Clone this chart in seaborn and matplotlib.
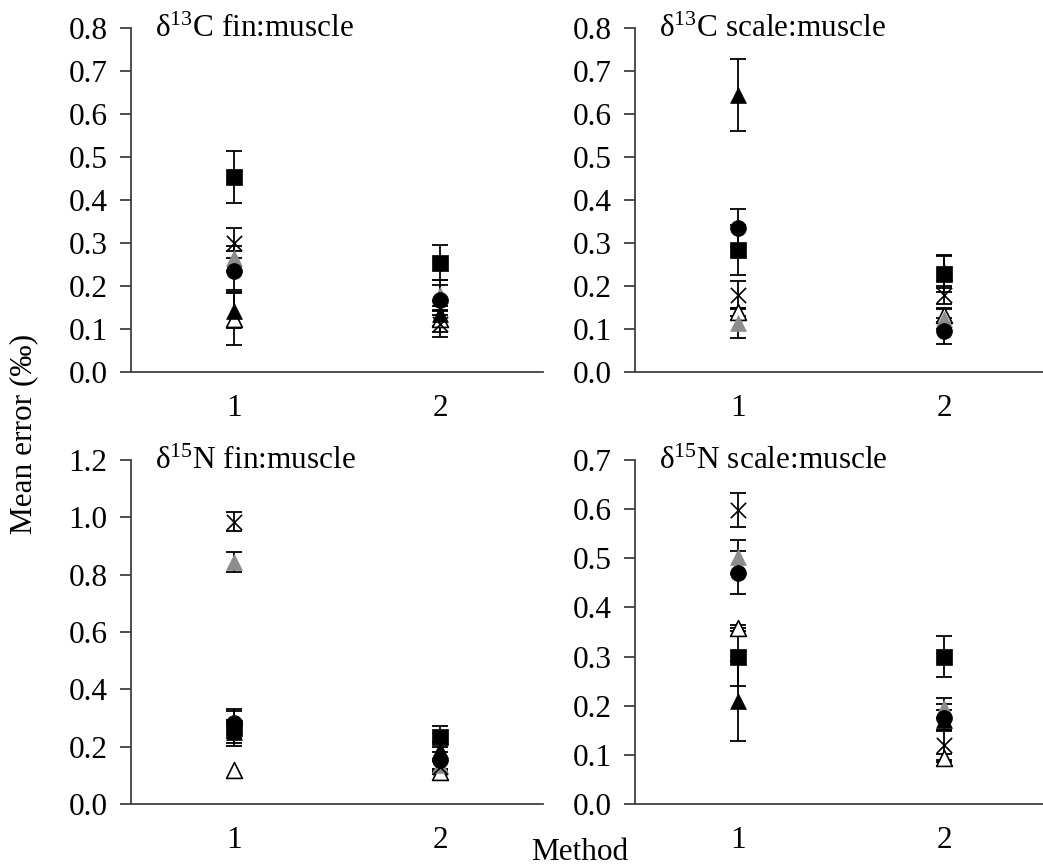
import numpy as np
import pandas as pd
import matplotlib
matplotlib.use("Agg")
import matplotlib.pyplot as plt
import seaborn as sns

sns.set_style("white")
plt.rcParams['font.family'] = ['Liberation Serif', 'DejaVu Serif']
plt.rcParams['mathtext.fontset'] = 'custom'
plt.rcParams['mathtext.rm'] = 'Liberation Serif'
plt.rcParams['mathtext.it'] = 'Liberation Serif:italic'
plt.rcParams['text.color'] = 'black'
plt.rcParams['xtick.color'] = 'black'
plt.rcParams['ytick.color'] = 'black'
plt.rcParams['axes.labelcolor'] = 'black'

# ---- data ----
methods = [1, 2]
series = ["square", "circle", "black_triangle", "grey_triangle", "open_triangle", "cross"]

panel_titles = [r"δ$\mathregular{^{13}}$C fin:muscle", r"δ$\mathregular{^{13}}$C scale:muscle",
                r"δ$\mathregular{^{15}}$N fin:muscle", r"δ$\mathregular{^{15}}$N scale:muscle"]

# means per series: [method1, method2]
c_fin_mean = {"square": [0.453, 0.254], "circle": [0.236, 0.167], "black_triangle": [0.143, 0.136],
              "grey_triangle": [0.264, 0.180], "open_triangle": [0.124, 0.124], "cross": [0.300, 0.112]}
c_fin_err = {"square": [0.060, 0.041], "circle": [0.045, 0.035], "black_triangle": [0.040, 0.030],
             "grey_triangle": [0.030, 0.035], "open_triangle": [0.062, 0.030], "cross": [0.034, 0.031]}

c_scale_mean = {"square": [0.283, 0.228], "circle": [0.334, 0.095], "black_triangle": [0.645, 0.233],
                "grey_triangle": [0.113, 0.124], "open_triangle": [0.140, 0.132], "cross": [0.179, 0.179]}
c_scale_err = {"square": [0.058, 0.043], "circle": [0.044, 0.030], "black_triangle": [0.084, 0.037],
               "grey_triangle": [0.035, 0.025], "open_triangle": [0.010, 0.015], "cross": [0.033, 0.020]}

n_fin_mean = {"square": [0.264, 0.235], "circle": [0.281, 0.153], "black_triangle": [0.252, 0.188],
              "grey_triangle": [0.845, 0.136], "open_triangle": [0.119, 0.113], "cross": [0.985, 0.130]}
n_fin_err = {"square": [0.060, 0.037], "circle": [0.050, 0.030], "black_triangle": [0.040, 0.030],
             "grey_triangle": [0.035, 0.020], "open_triangle": [0.0, 0.010], "cross": [0.033, 0.020]}

n_scale_mean = {"square": [0.299, 0.300], "circle": [0.471, 0.176], "black_triangle": [0.210, 0.171],
                "grey_triangle": [0.503, 0.195], "open_triangle": [0.358, 0.093], "cross": [0.598, 0.120]}
n_scale_err = {"square": [0.059, 0.041], "circle": [0.044, 0.027], "black_triangle": [0.082, 0.020],
               "grey_triangle": [0.035, 0.020], "open_triangle": [0.006, 0.008], "cross": [0.034, 0.030]}

ylims = [0.8, 0.8, 1.2, 0.7]
ysteps = [0.1, 0.1, 0.2, 0.1]

# ---- styles ----
style = {
    "open_triangle": dict(marker="^", facecolor="white", edgecolor="black", lw=1.2),
    "grey_triangle": dict(marker="^", facecolor="#8c8c8c", edgecolor="#8c8c8c", lw=0.5),
    "cross": dict(marker="x", facecolor="black", edgecolor="black", lw=1.2),
    "black_triangle": dict(marker="^", facecolor="black", edgecolor="black", lw=0.5),
    "square": dict(marker="s", facecolor="black", edgecolor="black", lw=0.5),
    "circle": dict(marker="o", facecolor="black", edgecolor="black", lw=0.5),
}
draw_order = ["open_triangle", "grey_triangle", "cross", "black_triangle", "square", "circle"]

fig = plt.figure(figsize=(10.43, 8.68), dpi=100)
W, H = 1043, 868
axes_px = [(131, 28, 412, 344), (635, 28, 412, 344), (131, 460, 412, 344), (635, 460, 412, 344)]
data_sets = [(c_fin_mean, c_fin_err), (c_scale_mean, c_scale_err),
             (n_fin_mean, n_fin_err), (n_scale_mean, n_scale_err)]

FS = 22.5
for i, (l, t, w, h) in enumerate(axes_px):
    ax = fig.add_axes([l / W, (H - t - h) / H, w / W, h / H])
    means, errs = data_sets[i]
    rows = []
    for s in series:
        for k, m in enumerate(methods):
            rows.append({"series": s, "method": m, "mean": means[s][k], "err": errs[s][k]})
    df = pd.DataFrame(rows)
    for s in draw_order:
        d = df[(df.series == s) & (df.err > 0)]
        if len(d):
            ax.errorbar(d["method"], d["mean"], yerr=d["err"], fmt="none", ecolor="black",
                        elinewidth=1.3, capsize=6, capthick=1.3, zorder=2)
    for s in draw_order:
        d = df[df.series == s]
        st = style[s]
        sz = 130 if st["marker"] != "x" else 120
        if st["marker"] == "s":
            sz = 120
        sns.scatterplot(data=d, x="method", y="mean", ax=ax, marker=st["marker"], s=sz,
                        color=st["facecolor"], edgecolor=st["edgecolor"] if st["marker"] != "x" else None,
                        linewidth=st["lw"], zorder=3, legend=False)
    ax.set_xlim(0.5, 2.5)
    ax.set_ylim(0, ylims[i])
    ax.set_yticks(np.round(np.arange(0, ylims[i] + 1e-9, ysteps[i]), 2))
    ax.set_yticklabels([f"{v:.1f}" for v in np.arange(0, ylims[i] + 1e-9, ysteps[i])])
    ax.set_xticks(methods)
    ax.set_xticklabels([str(m) for m in methods])
    ax.set_xticks([0.5, 1.5, 2.5], minor=True)
    ax.tick_params(axis="x", which="major", length=0, pad=16, labelsize=FS, labelcolor="black")
    ax.tick_params(axis="x", which="minor", length=8, width=1.3, direction="out", color="#404040")
    ax.tick_params(axis="y", which="major", length=8, width=1.3, direction="out", color="#404040",
                   pad=9, labelsize=FS, left=True, labelcolor="black")
    ax.set_xlabel("")
    ax.set_ylabel("")
    for sp in ["top", "right"]:
        ax.spines[sp].set_visible(False)
    for sp in ["left", "bottom"]:
        ax.spines[sp].set_color("#404040")
        ax.spines[sp].set_linewidth(1.3)
    ax.text(24 / w, (h - 9) / h, panel_titles[i], transform=ax.transAxes, fontsize=FS,
            ha="left", va="baseline", color="black")
    ax.set_facecolor("white")

fig.text(24 / W, 0.5, "Mean error (‰)", rotation=90, ha="center", va="center", fontsize=FS,
         color="black")
fig.text(580 / W, 1 - 853 / H, "Method", ha="center", va="center", fontsize=FS, color="black")

fig.savefig("out.png", dpi=100, facecolor="white")
